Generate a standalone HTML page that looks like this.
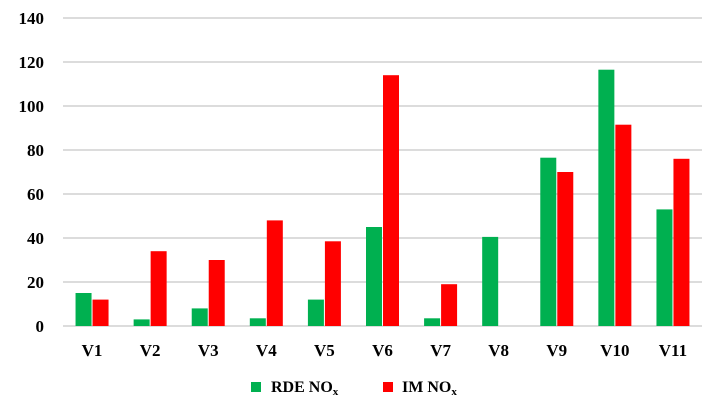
<!DOCTYPE html>
<html><head><meta charset="utf-8"><style>
body{margin:0;background:#fff}
svg{display:block;font-family:"Liberation Serif",serif;font-weight:bold}
</style></head><body>
<svg id="c" width="716" height="404" xmlns="http://www.w3.org/2000/svg">
<g id="grid"></g>
<g id="yt"></g>
<g id="bars"></g>
<g id="xt"></g>
<g>
<g><rect x="251" y="382" width="10" height="10" fill="#00b050"/><text x="271" y="392" font-size="16">RDE NO<tspan font-size="11" dy="3">x</tspan></text></g>
<g><rect x="383" y="382" width="10" height="10" fill="#ff0000"/><text x="402" y="392" font-size="16">IM NO<tspan font-size="11" dy="3">x</tspan></text></g>
</g>
</svg>
<script>
const categories=["V1","V2","V3","V4","V5","V6","V7","V8","V9","V10","V11"];
const rdeValues=[15,3,8,3.5,12,45,3.5,40.5,76.5,116.5,53];
const imValues=[12,34,30,48,38.5,114,19,0,70,91.5,76];
const yTicks=[0,20,40,60,80,100,120,140];
const NS="http://www.w3.org/2000/svg";
const x0=63,x1=702,yTop=18,yBot=326,yMax=140;
const bw=(x1-x0)/categories.length;
const Y=v=>yBot-(v/yMax)*(yBot-yTop);
const X=i=>x0+bw*(i+0.5);
function mk(t,a,p){const e=document.createElementNS(NS,t);for(const k in a)e.setAttribute(k,a[k]);p.appendChild(e);return e;}
const grid=document.getElementById('grid'),yt=document.getElementById('yt'),bars=document.getElementById('bars'),xt=document.getElementById('xt');
yTicks.forEach(v=>{
 const l=mk('line',{x1:x0,x2:x1,y1:Y(v),y2:Y(v),stroke:'#d0d0d0','stroke-width':1.5},grid);
 
 
 const t=mk('text',{x:44,y:Y(v)+6,'text-anchor':'end','font-size':17},yt);t.textContent=v;
 
 
});
categories.forEach((c,i)=>{
 const cx=X(i);
 const g=mk('rect',{x:cx-16.5,y:Y(rdeValues[i]),width:16,height:yBot-Y(rdeValues[i]),fill:'#00b050'},bars);
 
 
 const r=mk('rect',{x:cx+0.5,y:Y(imValues[i]),width:16,height:yBot-Y(imValues[i]),fill:'#ff0000'},bars);
 
 
 const t=mk('text',{x:cx,y:356,'text-anchor':'middle','font-size':17},xt);t.textContent=c;
 
 
});
</script>
</body></html>
